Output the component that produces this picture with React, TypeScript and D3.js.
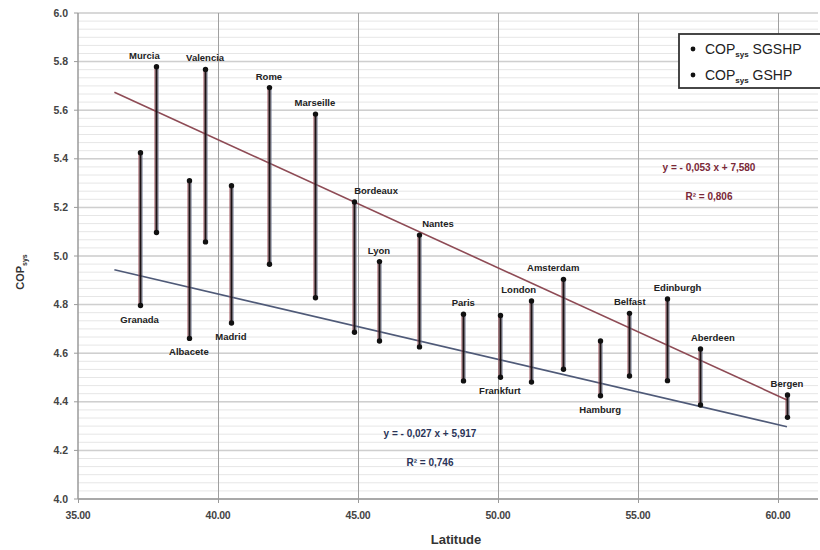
import { useEffect, useRef } from "react"
import * as d3 from "d3"

// cities ordered by latitude, COPsys
const cities = [
  "Granada", "Murcia", "Albacete", "Valencia", "Madrid", "Rome", "Marseille", "Bordeaux", "Lyon", "Nantes",
  "Paris", "Frankfurt", "London", "Amsterdam", "Hamburg", "Belfast", "Edinburgh", "Aberdeen", "Bergen",
]
const latitudes = [
  37.2, 37.8, 38.96, 39.54, 40.46, 41.82, 43.46, 44.86, 45.75, 47.18,
  48.76, 50.07, 51.17, 52.33, 53.65, 54.67, 56.02, 57.21, 60.32,
]
const copSGSHP = [
  5.425, 5.779, 5.31, 5.768, 5.289, 5.693, 5.584, 5.222, 4.977, 5.086,
  4.76, 4.755, 4.815, 4.904, 4.65, 4.764, 4.823, 4.617, 4.428,
]
const copGSHP = [
  4.796, 5.097, 4.661, 5.058, 4.724, 4.966, 4.828, 4.686, 4.65, 4.626,
  4.486, 4.501, 4.481, 4.534, 4.425, 4.506, 4.487, 4.387, 4.336,
]
const yTicks = [4.0, 4.2, 4.4, 4.6, 4.8, 5.0, 5.2, 5.4, 5.6, 5.8, 6.0]
const xTicks = [35, 40, 45, 50, 55, 60]
const trendFrom = 36.3
const eqSGSHP = ["y = - 0,053 x + 7,580", "R² = 0,806"]
const eqGSHP = ["y = - 0,027 x + 5,917", "R² = 0,746"]

// where each city name sits relative to its segment
const labelPlacement: Record<string, { side: "top" | "bottom"; dx: number }> = {
  Granada: { side: "bottom", dx: 0 },
  Murcia: { side: "top", dx: -12 },
  Albacete: { side: "bottom", dx: 0 },
  Valencia: { side: "top", dx: 0 },
  Madrid: { side: "bottom", dx: 0 },
  Rome: { side: "top", dx: 0 },
  Marseille: { side: "top", dx: 0 },
  Bordeaux: { side: "top", dx: 22 },
  Lyon: { side: "top", dx: 0 },
  Nantes: { side: "top", dx: 19 },
  Paris: { side: "top", dx: 0 },
  Frankfurt: { side: "bottom", dx: 0 },
  London: { side: "top", dx: -12 },
  Amsterdam: { side: "top", dx: -10 },
  Hamburg: { side: "bottom", dx: 0 },
  Belfast: { side: "top", dx: 1 },
  Edinburgh: { side: "top", dx: 11 },
  Aberdeen: { side: "top", dx: 13 },
  Bergen: { side: "top", dx: 0 },
}

function fit(xs: number[], ys: number[]) {
  const mx = d3.mean(xs)!
  const my = d3.mean(ys)!
  const sxy = d3.sum(xs, (x, i) => (x - mx) * (ys[i] - my))
  const sxx = d3.sum(xs, (x) => (x - mx) ** 2)
  const slope = sxy / sxx
  return { slope, intercept: my - slope * mx }
}

export default function App() {
  const svgRef = useRef<SVGSVGElement>(null)

  useEffect(() => {
    if (!svgRef.current) return
    const svg = d3.select(svgRef.current)
    svg.selectAll("*").remove()

    const width = 820
    const height = 550
    const font = "'Liberation Sans', Arial, sans-serif"

    const x = d3.scaleLinear().domain([35, 61.43]).range([78, 818])
    const y = d3.scaleLinear().domain([4, 6]).range([499, 13])
    const [x0, x1] = x.range()
    const [y0, y1] = y.range()
    const sx = (v: number) => Math.round(x(v)) + 0.5

    svg.attr("width", width).attr("height", height).attr("font-family", font)
    svg.append("rect").attr("width", width).attr("height", height).attr("fill", "#fff")

    // minor horizontal grid (six steps per major)
    const minor = d3.range(0, 61).map((i) => 4 + i * (0.2 / 6))
    svg.append("g")
      .selectAll("line")
      .data(minor)
      .join("line")
      .attr("x1", x0)
      .attr("x2", x1)
      .attr("y1", (d) => y(d))
      .attr("y2", (d) => y(d))
      .attr("stroke", "#e6e6e6")
      .attr("stroke-width", 1)

    // major horizontal grid
    svg.append("g")
      .selectAll("line")
      .data(yTicks)
      .join("line")
      .attr("x1", x0)
      .attr("x2", x1)
      .attr("y1", (d) => y(d))
      .attr("y2", (d) => y(d))
      .attr("stroke", "#cfcfcf")
      .attr("stroke-width", 1.5)

    // vertical grid
    svg.append("g")
      .selectAll("line")
      .data(xTicks.slice(1))
      .join("line")
      .attr("x1", (d) => sx(d))
      .attr("x2", (d) => sx(d))
      .attr("y1", y1)
      .attr("y2", y0)
      .attr("stroke", "#a0a0a0")
      .attr("stroke-width", 1)

    // axes
    svg.append("line").attr("x1", x0).attr("x2", x0).attr("y1", y1).attr("y2", y0)
      .attr("stroke", "#9a9a9a").attr("stroke-width", 1.5)
    svg.append("line").attr("x1", x0).attr("x2", x1).attr("y1", y0).attr("y2", y0)
      .attr("stroke", "#9a9a9a").attr("stroke-width", 1.5)

    const yAxis = svg.append("g")
    yAxis.selectAll("line")
      .data(yTicks)
      .join("line")
      .attr("x1", x0 - 4)
      .attr("x2", x0)
      .attr("y1", (d) => y(d))
      .attr("y2", (d) => y(d))
      .attr("stroke", "#9a9a9a")
    yAxis.selectAll("text")
      .data(yTicks)
      .join("text")
      .attr("x", x0 - 10)
      .attr("y", (d) => y(d))
      .attr("dy", "0.35em")
      .attr("text-anchor", "end")
      .attr("font-size", "10.5px")
      .attr("font-weight", "bold")
      .attr("fill", "#444")
      .text((d) => d.toFixed(1))

    const xAxis = svg.append("g")
    xAxis.selectAll("line")
      .data(xTicks)
      .join("line")
      .attr("x1", (d) => sx(d))
      .attr("x2", (d) => sx(d))
      .attr("y1", y0)
      .attr("y2", y0 + 4)
      .attr("stroke", "#9a9a9a")
    xAxis.selectAll("text")
      .data(xTicks)
      .join("text")
      .attr("x", (d) => x(d))
      .attr("y", y0 + 20)
      .attr("text-anchor", "middle")
      .attr("font-size", "10.5px")
      .attr("font-weight", "bold")
      .attr("fill", "#444")
      .attr("letter-spacing", "-0.3")
      .text((d) => d.toFixed(2))

    svg.append("text")
      .attr("x", 456)
      .attr("y", 544)
      .attr("text-anchor", "middle")
      .attr("font-size", "13px")
      .attr("font-weight", "bold")
      .attr("fill", "#333")
      .text("Latitude")

    const yTitle = svg.append("text")
      .attr("transform", "translate(24,272) rotate(-90)")
      .attr("text-anchor", "middle")
      .attr("font-size", "11px")
      .attr("font-weight", "bold")
      .attr("fill", "#333")
    yTitle.append("tspan").text("COP")
    yTitle.append("tspan").attr("font-size", "7px").attr("dy", 3).text("sys")

    // trend lines
    const rows = cities.map((c, i) => ({ city: c, lat: latitudes[i], top: copSGSHP[i], bottom: copGSHP[i] }))
    const latMax = d3.max(latitudes)!
    const trends = [
      { fit: fit(latitudes, copSGSHP), color: "#8e4b55" },
      { fit: fit(latitudes, copGSHP), color: "#4f5a78" },
    ]
    trends.forEach((t) => {
      svg.append("line")
        .attr("x1", x(trendFrom))
        .attr("x2", x(latMax))
        .attr("y1", y(t.fit.intercept + t.fit.slope * trendFrom))
        .attr("y2", y(t.fit.intercept + t.fit.slope * latMax))
        .attr("stroke", t.color)
        .attr("stroke-width", 1.6)
    })

    // segments: dark core with a reddish and a bluish edge
    const seg = svg.append("g")
    const edges = [
      { off: -1.5, color: "#9a4a55" },
      { off: 1.5, color: "#68708a" },
    ]
    edges.forEach((e) => {
      seg.append("g")
        .selectAll("line")
        .data(rows)
        .join("line")
        .attr("x1", (d) => sx(d.lat) + e.off)
        .attr("x2", (d) => sx(d.lat) + e.off)
        .attr("y1", (d) => y(d.top))
        .attr("y2", (d) => y(d.bottom))
        .attr("stroke", e.color)
        .attr("stroke-width", 1)
    })
    seg.append("g")
      .selectAll("line")
      .data(rows)
      .join("line")
      .attr("x1", (d) => sx(d.lat))
      .attr("x2", (d) => sx(d.lat))
      .attr("y1", (d) => y(d.top))
      .attr("y2", (d) => y(d.bottom))
      .attr("stroke", "#1c1416")
      .attr("stroke-width", 2)

    const dots = rows.flatMap((d) => [
      { lat: d.lat, v: d.top },
      { lat: d.lat, v: d.bottom },
    ])
    svg.append("g")
      .selectAll("circle")
      .data(dots)
      .join("circle")
      .attr("cx", (d) => sx(d.lat))
      .attr("cy", (d) => y(d.v))
      .attr("r", 2.7)
      .attr("fill", "#111")

    // city labels
    svg.append("g")
      .selectAll("text")
      .data(rows)
      .join("text")
      .attr("x", (d) => x(d.lat) + labelPlacement[d.city].dx)
      .attr("y", (d) => (labelPlacement[d.city].side === "top" ? y(d.top) - 8 : y(d.bottom) + 17))
      .attr("text-anchor", "middle")
      .attr("font-size", "9.5px")
      .attr("font-weight", "bold")
      .attr("fill", "#222")
      .text((d) => d.city)

    // equations
    const eq = [
      { lines: eqSGSHP, cx: 709, cy: 171, color: "#7a2838" },
      { lines: eqGSHP, cx: 430, cy: 437, color: "#2a3458" },
    ]
    eq.forEach((e) => {
      e.lines.forEach((t, i) => {
        svg.append("text")
          .attr("x", e.cx)
          .attr("y", e.cy + i * 29)
          .attr("text-anchor", "middle")
          .attr("font-size", "10px")
          .attr("font-weight", "bold")
          .attr("fill", e.color)
          .text(t)
      })
    })

    // legend
    const lg = svg.append("g")
    lg.append("rect")
      .attr("x", 679)
      .attr("y", 34)
      .attr("width", 150)
      .attr("height", 54)
      .attr("fill", "#fff")
      .attr("stroke", "#333")
      .attr("stroke-width", 1.8)
    ;["SGSHP", "GSHP"].forEach((s, i) => {
      const cy = 49 + i * 26
      lg.append("circle").attr("cx", 693).attr("cy", cy).attr("r", 2.4).attr("fill", "#111")
      const t = lg.append("text")
        .attr("x", 705)
        .attr("y", cy + 5)
        .attr("font-size", "14px")
        .attr("fill", "#222")
      t.append("tspan").text("COP")
      t.append("tspan").attr("font-size", "8px").attr("dy", 3).attr("font-weight", "bold").text("sys")
      t.append("tspan").attr("dy", -3).text(" " + s)
    })
  }, [])

  return (
    <svg
      ref={svgRef}
      width={820}
      height={550}
      style={{ position: "fixed", left: 0, top: 0, display: "block" }}
    />
  )
}
